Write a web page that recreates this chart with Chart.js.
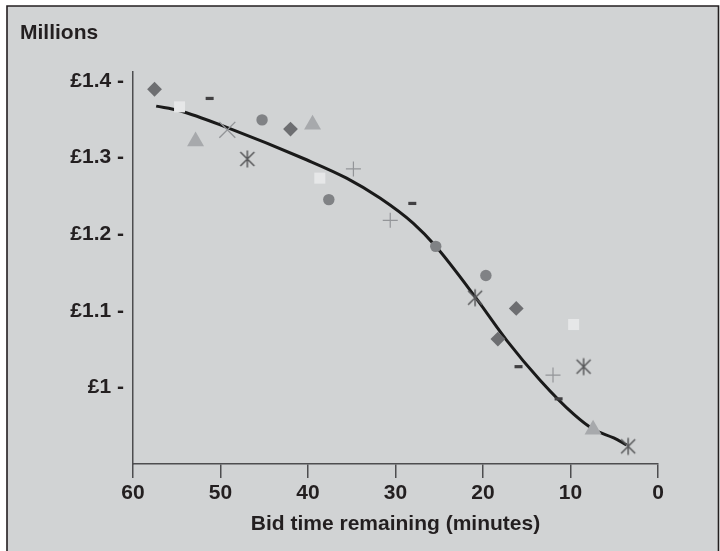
<!DOCTYPE html>
<html>
<head>
<meta charset="utf-8">
<script src="https://cdn.jsdelivr.net/npm/chart.js@4.4.0/dist/chart.umd.min.js"></script>
<style>
  html, body { margin: 0; padding: 0; background: #ffffff; }
  #wrap { width: 720px; height: 551px; }
</style>
</head>
<body>
<div id="wrap"><canvas id="c" width="720" height="551"></canvas></div>
<script>
// Axis ticks
const xTicks = [60, 50, 40, 30, 20, 10, 0];
const yTicks = [1.0, 1.1, 1.2, 1.3, 1.4];
const yTickLabels = ['£1 -', '£1.1 -', '£1.2 -', '£1.3 -', '£1.4 -'];

// Winning bid observations: [minutes remaining, price in £ millions]
const diamonds  = [[57.54, 1.389], [42.00, 1.337], [18.30, 1.063], [16.20, 1.103]];
const squares   = [[54.68, 1.366], [38.65, 1.273], [9.64, 1.082]];
const dashes    = [[51.24, 1.377], [28.08, 1.240], [15.94, 1.027], [11.36, 0.985]];
const circles   = [[45.25, 1.349], [37.62, 1.245], [25.40, 1.184], [19.67, 1.146]];
const triangles = [[52.85, 1.321], [39.48, 1.343], [7.42, 0.945]];
const crosses   = [[49.22, 1.336]];
const asterisks = [[46.93, 1.298], [20.90, 1.117], [8.50, 1.027], [3.41, 0.923]];
const pluses    = [[34.81, 1.285], [30.60, 1.218], [12.00, 1.016]];

// Fitted trend
const trend = [
  [57.35, 1.367], [54.68, 1.361], [49.22, 1.339], [40.17, 1.297],
  [35.59, 1.273], [31.78, 1.247], [27.96, 1.214], [25.40, 1.184],
  [20.90, 1.118], [17.27, 1.061], [13.45, 1.009], [9.64, 0.965],
  [7.35, 0.945], [5.06, 0.934], [3.61, 0.925]
];

const toXY = arr => arr.map(([x, y]) => ({ x, y }));

const FONT = "'Liberation Sans', Arial, Helvetica, sans-serif";
const TEXT = '#231f20';
const AXIS = '#4d4d4f';

// Six-armed asterisk marker
function asteriskMarker() {
  const cv = document.createElement('canvas');
  cv.width = 20; cv.height = 20;
  const g = cv.getContext('2d');
  g.strokeStyle = '#58595b';
  g.lineWidth = 1.5;
  g.beginPath();
  g.moveTo(10, 1.5); g.lineTo(10, 18.5);
  g.moveTo(3, 3); g.lineTo(17, 17);
  g.moveTo(17, 3); g.lineTo(3, 17);
  g.stroke();
  return cv;
}

const panel = {
  id: 'panel',
  beforeDraw(chart) {
    const ctx = chart.ctx;
    ctx.save();
    ctx.fillStyle = '#ffffff';
    ctx.fillRect(0, 0, chart.width, chart.height);
    ctx.fillStyle = '#d1d3d4';
    ctx.fillRect(7, 6, 712, chart.height - 6);
    ctx.strokeStyle = '#231f20';
    ctx.lineWidth = 1.6;
    ctx.beginPath();
    ctx.moveTo(7, chart.height);
    ctx.lineTo(7, 6);
    ctx.lineTo(718.5, 6);
    ctx.lineTo(718.5, chart.height);
    ctx.stroke();
    ctx.fillStyle = TEXT;
    ctx.font = 'bold 21px ' + FONT;
    ctx.textAlign = 'left';
    ctx.textBaseline = 'middle';
    ctx.fillText('Millions', 20, 33);
    ctx.restore();
  }
};

function markerSet(data, style, radius, fill, stroke, width) {
  return {
    type: 'scatter',
    data: toXY(data),
    pointStyle: style,
    pointRadius: radius,
    pointHoverRadius: radius,
    backgroundColor: fill,
    borderColor: stroke,
    borderWidth: width,
    order: 0
  };
}

new Chart(document.getElementById('c'), {
  type: 'scatter',
  data: {
    datasets: [
      markerSet(diamonds, 'rectRot', 7.4, '#6d6e71', '#6d6e71', 0),
      markerSet(squares, 'rect', 7.8, '#e6e7e8', '#e6e7e8', 0),
      markerSet(dashes, 'line', 4, '#414042', '#414042', 3.2),
      markerSet(circles, 'circle', 5.7, '#808285', '#808285', 0),
      markerSet(triangles, 'triangle', 9.8, '#a7a9ac', '#a7a9ac', 0),
      markerSet(crosses, 'crossRot', 11.3, '#939598', '#939598', 1.4),
      markerSet(asterisks, asteriskMarker(), 10, '#58595b', '#58595b', 1.5),
      markerSet(pluses, 'cross', 7.5, '#939598', '#939598', 1.2),
      {
        type: 'line',
        data: toXY(trend),
        borderColor: '#1a1a1a',
        borderWidth: 3,
        pointRadius: 0,
        fill: false,
        cubicInterpolationMode: 'monotone',
        order: 10
      }
    ]
  },
  options: {
    responsive: false,
    animation: false,
    devicePixelRatio: 1,
    layout: { padding: { top: 72, right: 62, left: 0, bottom: 0 } },
    plugins: { legend: { display: false }, tooltip: { enabled: false }, title: { display: false } },
    scales: {
      x: {
        type: 'linear',
        reverse: true,
        min: 0,
        max: 60,
        afterBuildTicks: s => { s.ticks = xTicks.map(v => ({ value: v })); },
        afterFit: s => { s.height = 87; },
        grid: { display: true, drawOnChartArea: false, drawTicks: true, tickLength: 14, color: AXIS, lineWidth: 1.5 },
        border: { display: true, color: AXIS, width: 1.5 },
        ticks: {
          color: TEXT, padding: 3, maxRotation: 0, autoSkip: false,
          font: { family: FONT, weight: 'bold', size: 21 },
          callback: v => String(v)
        },
        title: {
          display: true,
          text: 'Bid time remaining (minutes)',
          color: TEXT,
          font: { family: FONT, weight: 'bold', size: 21 },
          padding: { top: 0, bottom: 14 }
        }
      },
      y: {
        type: 'linear',
        min: 0.9,
        max: 1.4115,
        afterBuildTicks: s => { s.ticks = yTicks.map(v => ({ value: v })); },
        afterFit: s => { s.width = 133; },
        grid: { display: false, drawTicks: false },
        border: { display: true, color: AXIS, width: 1.5 },
        ticks: {
          color: TEXT, padding: 9, autoSkip: false,
          font: { family: FONT, weight: 'bold', size: 21 },
          callback: v => yTickLabels[yTicks.indexOf(v)]
        }
      }
    }
  },
  plugins: [panel]
});
</script>
</body>
</html>
